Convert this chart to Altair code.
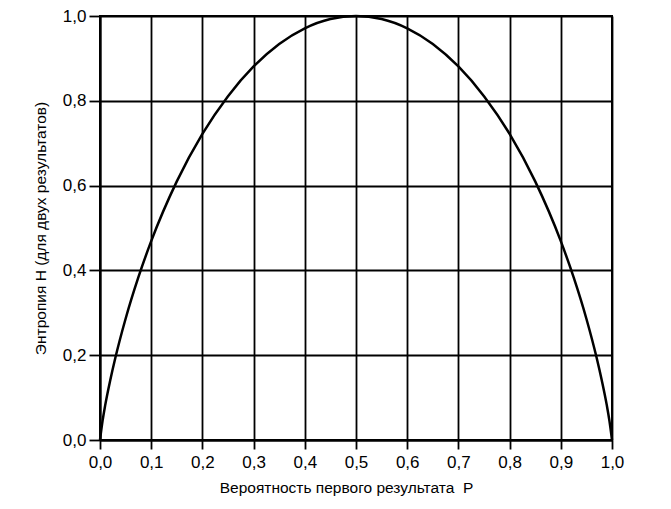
import altair as alt
import pandas as pd

# Probability of the first outcome (x) and entropy (y)
p_vals = [0.0, 0.005, 0.01, 0.02, 0.03, 0.05, 0.075, 0.1, 0.15, 0.2, 0.25, 0.3, 0.35, 0.4, 0.45, 0.5,
          0.55, 0.6, 0.65, 0.7, 0.75, 0.8, 0.85, 0.9, 0.925, 0.95, 0.97, 0.98, 0.99, 0.995, 1.0]
h_vals = [0.0, 0.045, 0.081, 0.141, 0.194, 0.286, 0.384, 0.469, 0.610, 0.722, 0.811, 0.881, 0.934, 0.971, 0.993, 1.0,
          0.993, 0.971, 0.934, 0.881, 0.811, 0.722, 0.610, 0.469, 0.384, 0.286, 0.194, 0.141, 0.081, 0.045, 0.0]

x_ticks = [0.0, 0.1, 0.2, 0.3, 0.4, 0.5, 0.6, 0.7, 0.8, 0.9, 1.0]
y_ticks = [0.0, 0.2, 0.4, 0.6, 0.8, 1.0]

x_title = "Вероятность первого результата\u00a0\u00a0P"
y_title = "Энтропия H (для двух результатов)"

df = pd.DataFrame({"p": p_vals, "h": h_vals})

label_expr = "replace(format(datum.value, '.1f'), '.', ',')"
FONT = "Liberation Sans"

chart = alt.Chart(df).mark_line(color="black", strokeWidth=2.5, interpolate="monotone").encode(
    x=alt.X("p:Q", scale=alt.Scale(domain=[0, 1], nice=False),
            axis=alt.Axis(values=x_ticks, labelExpr=label_expr, title=x_title, labelFlush=False,
                          tickSize=9, labelPadding=5, titlePadding=10, titleX=246, grid=True)),
    y=alt.Y("h:Q", scale=alt.Scale(domain=[0, 1], nice=False),
            axis=alt.Axis(values=y_ticks, labelExpr=label_expr, title=y_title, labelFlush=False,
                          tickSize=11, labelPadding=3, titleX=-52, titleY=212, grid=True)),
).properties(
    width=512, height=424,
    autosize=alt.AutoSizeParams(type="none"),
    padding={"left": 92, "top": 8, "right": 40, "bottom": 60},
).configure_axis(
    gridColor="black", gridWidth=1.8, gridOpacity=1,
    domainColor="black", domainWidth=2,
    tickColor="black", tickWidth=1.8,
    labelFont=FONT, labelFontSize=17, labelColor="black",
    titleFont=FONT, titleFontSize=15.5, titleFontWeight="normal", titleColor="black",
).configure_view(stroke="black", strokeWidth=2)

chart.save("out.html", embed_options={"renderer": "svg", "actions": False})
